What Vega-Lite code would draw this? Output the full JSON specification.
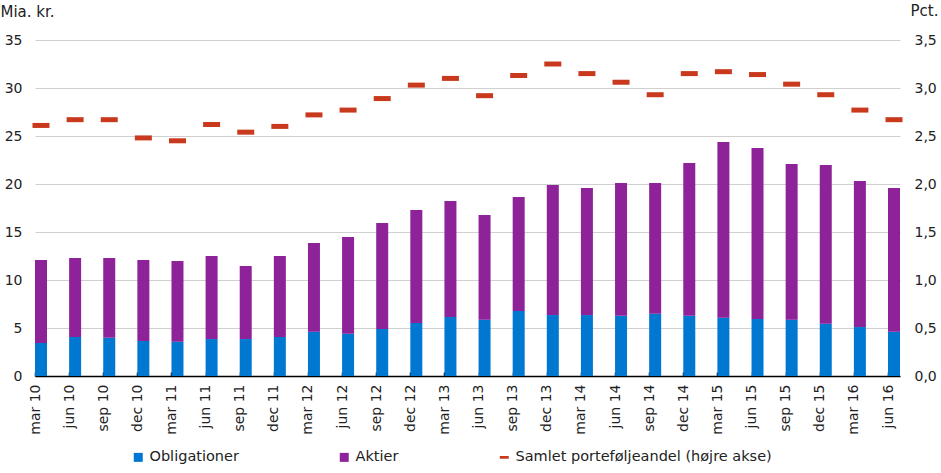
{
  "$schema": "https://vega.github.io/schema/vega-lite/v6.json",
  "autosize": {"type": "none"},
  "width": 865,
  "height": 336,
  "padding": {"left": 35, "top": 40, "right": 41, "bottom": 97},
  "config": {
    "font": "DejaVu Sans",
    "view": {"stroke": null},
    "axis": {"labelFontSize": 14, "labelColor": "#222", "titleFontSize": 15, "titleColor": "#222", "titleFontWeight": "normal"}
  },
  "data": {
    "values": [
      {"q": "mar 10", "Obligationer": 3.44, "Aktier": 8.64, "Samlet": 2.61},
      {"q": "jun 10", "Obligationer": 4.06, "Aktier": 8.23, "Samlet": 2.67},
      {"q": "sep 10", "Obligationer": 3.99, "Aktier": 8.30, "Samlet": 2.67},
      {"q": "dec 10", "Obligationer": 3.65, "Aktier": 8.43, "Samlet": 2.48},
      {"q": "mar 11", "Obligationer": 3.58, "Aktier": 8.40, "Samlet": 2.45},
      {"q": "jun 11", "Obligationer": 3.85, "Aktier": 8.65, "Samlet": 2.62},
      {"q": "sep 11", "Obligationer": 3.85, "Aktier": 7.61, "Samlet": 2.54},
      {"q": "dec 11", "Obligationer": 4.06, "Aktier": 8.44, "Samlet": 2.60},
      {"q": "mar 12", "Obligationer": 4.62, "Aktier": 9.23, "Samlet": 2.72},
      {"q": "jun 12", "Obligationer": 4.41, "Aktier": 10.07, "Samlet": 2.77},
      {"q": "sep 12", "Obligationer": 4.90, "Aktier": 11.04, "Samlet": 2.89},
      {"q": "dec 12", "Obligationer": 5.52, "Aktier": 11.77, "Samlet": 3.03},
      {"q": "mar 13", "Obligationer": 6.15, "Aktier": 12.08, "Samlet": 3.10},
      {"q": "jun 13", "Obligationer": 5.87, "Aktier": 10.90, "Samlet": 2.92},
      {"q": "sep 13", "Obligationer": 6.77, "Aktier": 11.88, "Samlet": 3.13},
      {"q": "dec 13", "Obligationer": 6.35, "Aktier": 13.55, "Samlet": 3.25},
      {"q": "mar 14", "Obligationer": 6.35, "Aktier": 13.23, "Samlet": 3.15},
      {"q": "jun 14", "Obligationer": 6.28, "Aktier": 13.82, "Samlet": 3.06},
      {"q": "sep 14", "Obligationer": 6.49, "Aktier": 13.61, "Samlet": 2.93},
      {"q": "dec 14", "Obligationer": 6.28, "Aktier": 15.91, "Samlet": 3.15},
      {"q": "mar 15", "Obligationer": 6.08, "Aktier": 18.30, "Samlet": 3.17},
      {"q": "jun 15", "Obligationer": 5.94, "Aktier": 17.81, "Samlet": 3.14},
      {"q": "sep 15", "Obligationer": 5.87, "Aktier": 16.21, "Samlet": 3.04},
      {"q": "dec 15", "Obligationer": 5.45, "Aktier": 16.53, "Samlet": 2.93},
      {"q": "mar 16", "Obligationer": 5.10, "Aktier": 15.21, "Samlet": 2.77},
      {"q": "jun 16", "Obligationer": 4.62, "Aktier": 14.96, "Samlet": 2.67}
    ]
  },
  "encoding": {
    "x": {
      "field": "q",
      "type": "nominal",
      "sort": null,
      "title": null,
      "scale": {"paddingInner": 0.6483, "paddingOuter": 0},
      "axis": {
        "labelAngle": 270,
        "domainColor": "#000",
        "domainWidth": 1.5,
        "tickColor": "#000",
        "tickSize": -4,
        "tickWidth": 1.5,
        "tickOffset": -6,
        "labelPadding": 12
      }
    }
  },
  "layer": [
    {
      "transform": [
        {"fold": ["Obligationer", "Aktier"], "as": ["serie", "mia"]}
      ],
      "mark": {"type": "bar"},
      "encoding": {
        "y": {
          "field": "mia",
          "type": "quantitative",
          "stack": "zero",
          "scale": {"domain": [0, 35]},
          "axis": {
            "values": [0, 5, 10, 15, 20, 25, 30, 35],
            "domain": false,
            "ticks": false,
            "labelPadding": 13,
            "gridColor": "#d0d0d0",
            "title": "Mia. kr.",
            "titleAngle": 0,
            "titleAlign": "left",
            "titleBaseline": "middle",
            "titleX": -35,
            "titleY": -29
          }
        },
        "color": {
          "field": "serie",
          "type": "nominal",
          "scale": {
            "domain": ["Obligationer", "Aktier", "Samlet porteføljeandel (højre akse)"],
            "range": ["#0078d2", "#8e2299", "#c8391d"]
          },
          "legend": {
            "title": null,
            "orient": "none",
            "legendX": 96,
            "legendY": 410,
            "direction": "horizontal",
            "columns": 3,
            "columnPadding": 98,
            "padding": 0,
            "labelFontSize": 14.5,
            "labelColor": "#222",
            "labelLimit": 0,
            "labelOffset": 4,
            "symbolSize": 81,
            "symbolType": "square",
            "symbolStrokeWidth": 0,
            "encode": {
              "symbols": {
                "update": {
                  "shape": {"signal": "datum.label === 'Samlet porteføljeandel (højre akse)' ? 'M-1,-0.3H1V0.3H-1Z' : 'square'"}
                }
              }
            }
          }
        },
        "order": {"field": "serie", "sort": "descending"}
      }
    },
    {
      "mark": {"type": "tick", "size": 17, "thickness": 5, "opacity": 1},
      "encoding": {
        "y": {
          "field": "Samlet",
          "type": "quantitative",
          "scale": {"domain": [0, 3.5]},
          "axis": {
            "orient": "right",
            "values": [0, 0.5, 1, 1.5, 2, 2.5, 3, 3.5],
            "labelExpr": "replace(format(datum.value, '.1f'), '.', ',')",
            "grid": false,
            "domain": false,
            "ticks": false,
            "labelPadding": 14,
            "title": "Pct.",
            "titleAngle": 0,
            "titleAlign": "right",
            "titleBaseline": "middle",
            "titleX": 38,
            "titleY": -30
          }
        },
        "color": {"datum": "Samlet porteføljeandel (højre akse)"}
      }
    }
  ],
  "resolve": {"scale": {"y": "independent"}}
}
